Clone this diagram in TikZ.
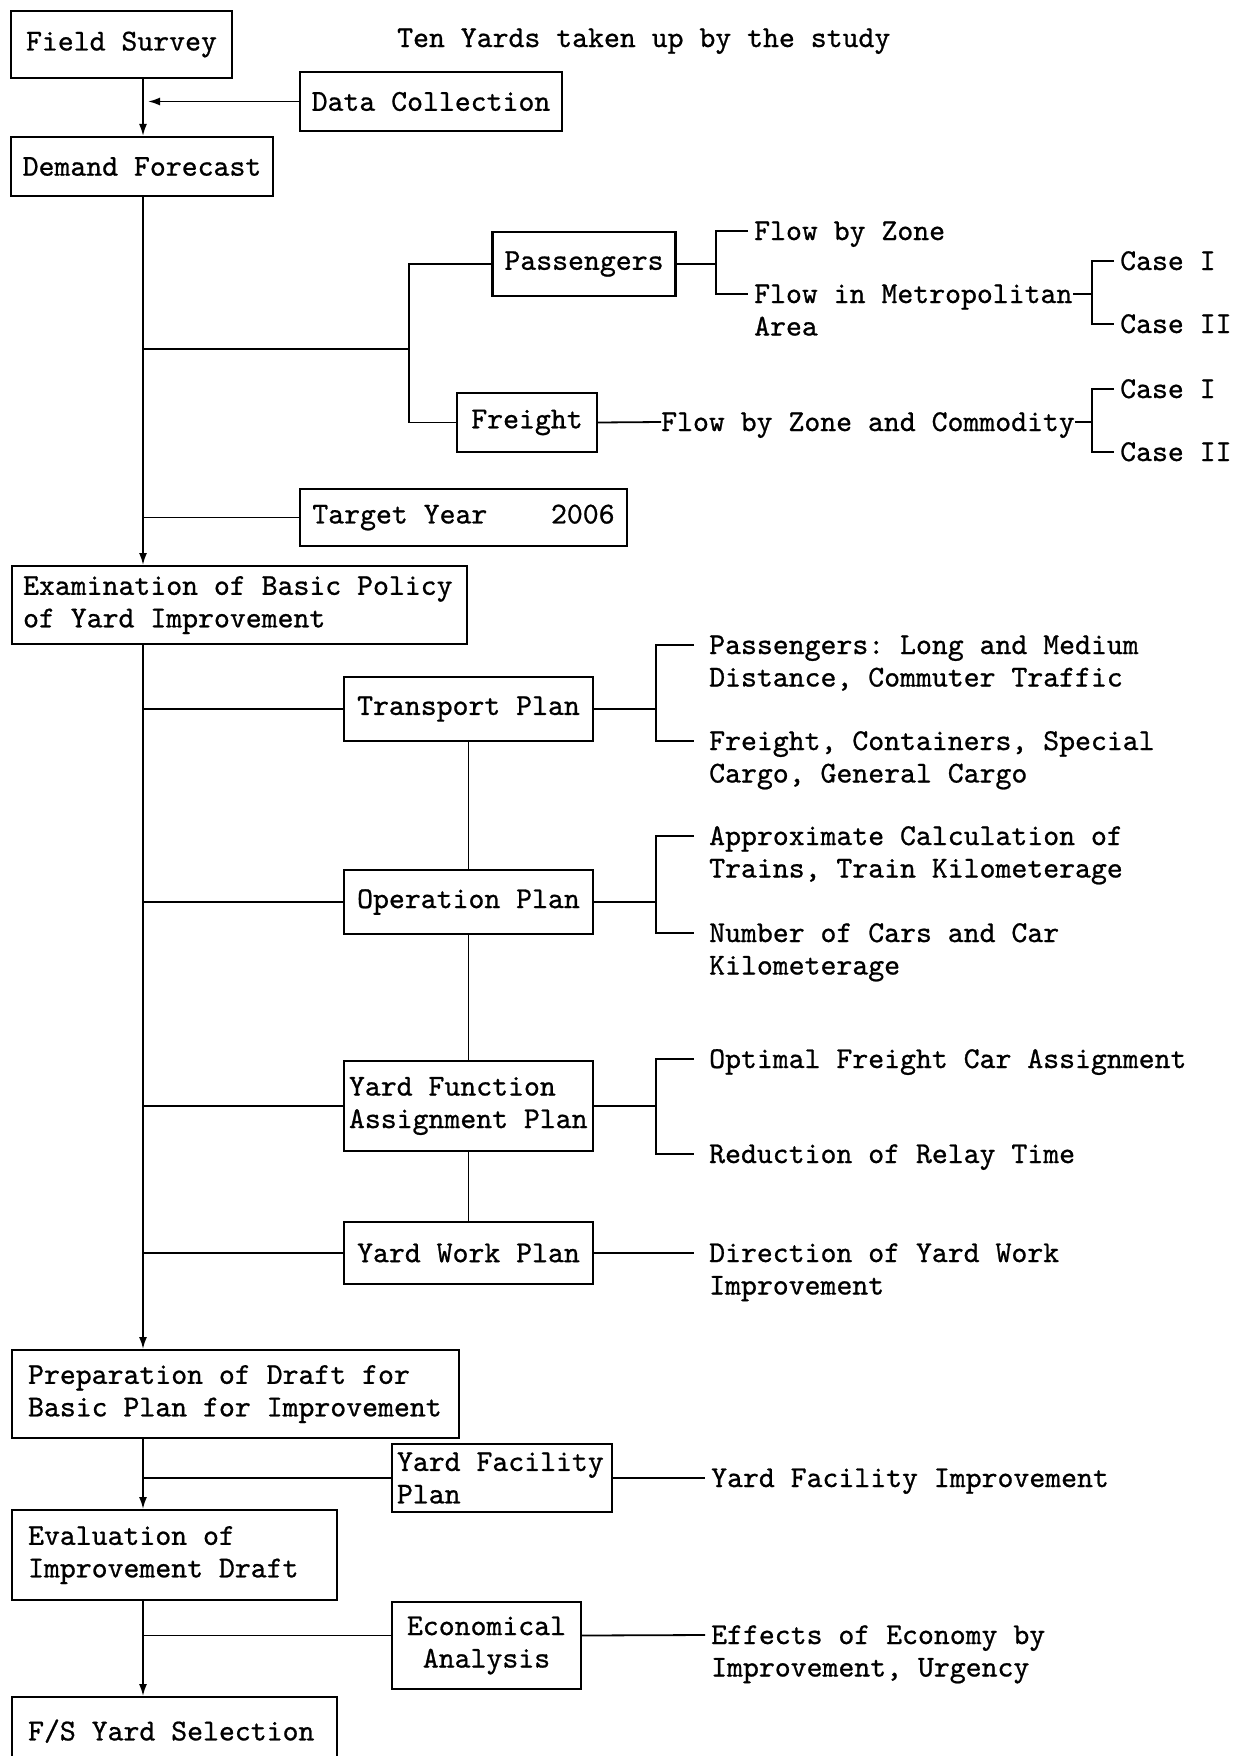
\documentclass[tikz,border=0pt]{standalone}
\usepackage{fontspec}
\setmonofont{lmmono10-regular.otf}[FakeBold=0.8]
\usetikzlibrary{positioning,arrows.meta}
\tikzset{
  every node/.style={font=\fontsize{30.3}{32.5}\selectfont\ttfamily,
    execute at begin node={\frenchspacing\spaceskip=\fontdimen2\font}},
  box/.style={draw,line width=2.2pt,inner xsep=12pt,inner ysep=0pt},
  lbl/.style={inner sep=0pt,align=left,anchor=base west,text width=520pt},
  link/.style={line width=1.8pt},
  flow/.style={line width=1.8pt,-{Latex[length=12pt,width=8pt]}}
}
\begin{document}
\begin{tikzpicture}[x=1pt,y=-1pt]
  \useasboundingbox (0,0) rectangle (1244,1756);
  \coordinate (axis) at (143,0);
  % survey and forecast
  \node[box,minimum width=221,minimum height=67] (fs) at (121.5,44.5) {Field Survey};
  \node[lbl] (ttl) at (397,47) {Ten Yards taken up by the study};
  \node[box,minimum width=262,minimum height=59] (dc) at (431,101.5) {Data Collection};
  \node[box,minimum width=262,minimum height=59] (df) at (142,166.5) {Demand Forecast};
  \draw[flow] (fs.south -| axis) -- (df.north -| axis);
  \draw[flow,shorten >=5pt] (dc) -- (dc -| axis);
  \node[box,minimum width=182,minimum height=64] (pax) at (584,264) {Passengers};
  \node[box,minimum width=140,minimum height=59] (frt) at (527,422.5) {Freight};
  \coordinate (pf) at (409,349);
  \draw[link] (axis |- pf) -- (pf);
  \draw[link] (pax) -| (pf) |- (frt);
  \node[lbl] (fz) at (754,240) {Flow by Zone};
  \node[lbl] (fm) at (754,303) {Flow in Metropolitan\\Area};
  \node[lbl] (c1) at (1120,270) {Case I};
  \node[lbl] (c2) at (1120,333) {Case II};
  \node[lbl] (fzc) at (661,431) {Flow by Zone and Commodity};
  \node[lbl] (c3) at (1120,398) {Case I};
  \node[lbl] (c4) at (1120,461) {Case II};
  \draw[link] (pax.east) -- ++(39,0) coordinate (pk);
  \draw[link] ([xshift=-6pt,yshift=9pt]fz.base west) -| (pk) |- ([xshift=-6pt,yshift=9pt]fm.base west);
  \coordinate (ck1) at (1092,294);
  \draw[link] (ck1) -- ++(-19,0);
  \draw[link] ([xshift=-6pt,yshift=9pt]c1.base west) -| (ck1) |- ([xshift=-6pt,yshift=9pt]c2.base west);
  \draw[link] (frt.east) -- ([xshift=0pt,yshift=9pt]fzc.base west);
  \coordinate (ck2) at (1092,422);
  \draw[link] (ck2) -- ++(-17,0);
  \draw[link] ([xshift=-6pt,yshift=9pt]c3.base west) -| (ck2) |- ([xshift=-6pt,yshift=9pt]c4.base west);
  \node[box,minimum width=327,minimum height=57] (tgt) at (463.5,517.5) {Target Year~~~~2006};
  \draw[link] (axis |- tgt) -- (tgt);
  % basic policy
  \node[box,anchor=north west,text width=433pt,inner xsep=11pt,minimum height=78,align=left] (exam) at (11,565) {Examination of Basic Policy\\of Yard Improvement};
  \draw[flow] (df.south -| axis) -- (exam.north -| axis);
  \node[box,minimum width=249,minimum height=64] (tp) at (468.5,709) {Transport Plan};
  \node[box,minimum width=249,minimum height=64] (op) at (468.5,902) {Operation Plan};
  \node[box,text width=239pt,inner xsep=5pt,minimum height=90,align=left] (yfap) at (468.5,1106) {Yard Function\\Assignment Plan};
  \node[box,minimum width=249,minimum height=62] (ywp) at (468.5,1253) {Yard Work Plan};
  \foreach \pl in {tp,op,yfap,ywp} \draw[link] (axis |- \pl) -- (\pl);
  \draw[link] (tp) -- (op) (op) -- (yfap) (yfap) -- (ywp);
  \node[lbl] (tpa) at (709,654) {Passengers: Long and Medium\\Distance, Commuter Traffic};
  \node[lbl] (tpb) at (709,750) {Freight, Containers, Special\\Cargo, General Cargo};
  \node[lbl] (opa) at (709,845) {Approximate Calculation of\\Trains, Train Kilometerage};
  \node[lbl] (opb) at (709,942) {Number of Cars and Car\\Kilometerage};
  \node[lbl] (yfa) at (709,1068) {Optimal Freight Car Assignment};
  \node[lbl] (yfb) at (709,1163) {Reduction of Relay Time};
  \node[lbl] (ywa) at (709,1262) {Direction of Yard Work\\Improvement};
  \foreach \bx/\ua/\la in {tp/tpa/tpb,op/opa/opb,yfap/yfa/yfb}{
    \draw[link] (\bx.east) -- ++(62,0) coordinate (k);
    \draw[link] ([xshift=-15pt,yshift=9pt]\ua.base west) -| (k) |- ([xshift=-15pt,yshift=9pt]\la.base west);
  }
  \draw[link] (ywp.east) -- ([xshift=-15pt,yshift=9pt]ywa.base west);
  % draft, evaluation, selection
  \node[box,anchor=north west,text width=415pt,inner xsep=16pt,minimum height=88,align=left] (prep) at (11,1349) {Preparation of Draft for\\Basic Plan for Improvement};
  \draw[flow] (exam.south -| axis) -- (prep.north -| axis);
  \node[box,text width=210pt,inner xsep=5pt,minimum height=68,align=left] (yfp) at (502,1478) {Yard Facility\\Plan};
  \node[lbl] (yfi) at (711,1487) {Yard Facility Improvement};
  \draw[link] (axis |- yfp) -- (yfp);
  \draw[link] (yfp.east) -- ([xshift=-6pt,yshift=9pt]yfi.base west);
  \node[box,anchor=north west,text width=293pt,inner xsep=16pt,minimum height=90,align=left] (evl) at (11,1509) {Evaluation of\\Improvement Draft};
  \draw[flow] (prep.south -| axis) -- (evl.north -| axis);
  \node[box,minimum width=189,minimum height=87,align=center] (econ) at (486.5,1645.5) {Economical\\Analysis};
  \node[lbl] (eca) at (711,1644) {Effects of Economy by\\Improvement, Urgency};
  \coordinate (ek) at ([yshift=10pt]econ.west);
  \draw[link] (axis |- ek) -- (ek);
  \draw[link] (econ.east |- ek) -- ([xshift=-6pt,yshift=9pt]eca.base west);
  \node[box,anchor=north west,text width=293pt,inner xsep=16pt,minimum height=68,align=left] (fsel) at (11,1696) {F/S Yard Selection};
  \draw[flow] (evl.south -| axis) -- (fsel.north -| axis);
\end{tikzpicture}
\end{document}
